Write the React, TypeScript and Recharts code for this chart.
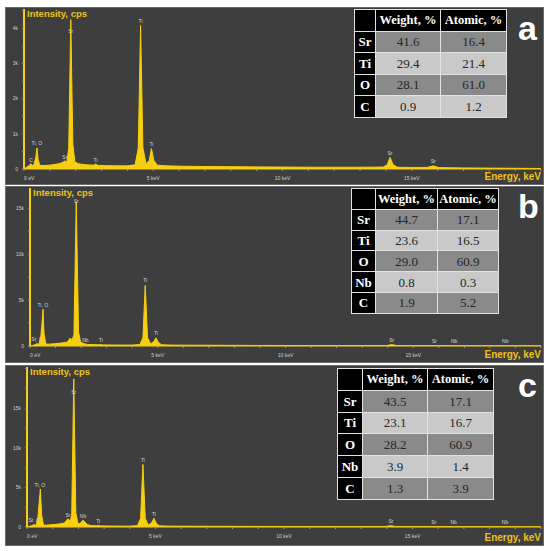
import { ComposedChart, Area, XAxis, YAxis, ReferenceDot } from 'recharts';

const YELLOW = '#f7cf0f';
const TITLE_YELLOW = '#eec21c';
const PANEL_BG = '#3e3e3e';
const ROW_DARK = '#8a8a8a';
const ROW_LIGHT = '#c9c9c9';
const CELL_BORDER = '1.5px solid #e2e2e2';
const SERIF = '"Liberation Serif", "Times New Roman", "DejaVu Serif", serif';
const SANS = '"Liberation Sans", Arial, sans-serif';

// shared energy axis (keV)
const energyTicks = [0, 1, 2, 3, 4, 5, 6, 7, 8, 9, 10, 11, 12, 13, 14, 15, 16, 17, 18, 19, 20];
const energyLabels: Record<number, string> = { 0: '0 eV', 5: '5 keV', 10: '10 keV', 15: '15 keV' };

// ---- panel a ----
const energyA = [0, 0.1, 0.2, 0.27, 0.33, 0.4, 0.46, 0.5, 0.55, 0.62, 0.8, 1.0, 1.2, 1.4, 1.5, 1.58, 1.66, 1.73, 1.81, 1.89, 1.97, 2.1, 2.4, 2.7, 2.77, 2.85, 3.2, 3.6, 4.0, 4.3, 4.42, 4.51, 4.6, 4.72, 4.85, 4.93, 5.02, 5.15, 5.5, 6, 7, 8, 9, 10, 11, 12, 13, 13.9, 14.05, 14.16, 14.28, 14.45, 15, 15.6, 15.83, 16.05, 16.5, 17, 18, 19, 20];
const countsA = [0, 50, 100, 150, 90, 160, 350, 600, 250, 100, 100, 110, 130, 160, 190, 230, 200, 600, 4250, 700, 200, 150, 120, 110, 140, 105, 95, 90, 90, 120, 600, 4080, 600, 150, 250, 580, 250, 110, 90, 80, 70, 65, 60, 55, 50, 50, 50, 55, 120, 330, 120, 50, 45, 45, 90, 40, 35, 30, 25, 20, 15];
const peaksA = [
  { e: 0.27, c: 150, name: 'C' },
  { e: 0.5, c: 620, name: 'Ti, O' },
  { e: 1.58, c: 240, name: 'Sr' },
  { e: 1.81, c: 3800, name: 'Sr' },
  { e: 2.77, c: 140, name: 'Ti' },
  { e: 4.51, c: 4100, name: 'Ti' },
  { e: 4.93, c: 600, name: 'Ti' },
  { e: 14.16, c: 340, name: 'Sr' },
  { e: 15.83, c: 100, name: 'Sr' },
];
const yTicksA = [0, 500, 1000, 1500, 2000, 2500, 3000, 3500, 4000, 4500];
const yLabelsA: Record<number, string> = { 0: '0', 1000: '1k', 2000: '2k', 3000: '3k', 4000: '4k' };
const elementsA = ['Sr', 'Ti', 'O', 'C'];
const weightA = ['41.6', '29.4', '28.1', '0.9'];
const atomicA = ['16.4', '21.4', '61.0', '1.2'];

// ---- panel b ----
const energyB = [0, 0.1, 0.2, 0.27, 0.34, 0.42, 0.47, 0.51, 0.55, 0.62, 0.75, 1.0, 1.25, 1.45, 1.52, 1.58, 1.64, 1.72, 1.81, 1.9, 1.98, 2.1, 2.17, 2.26, 2.45, 2.7, 2.77, 2.84, 3.2, 3.6, 4.0, 4.3, 4.42, 4.51, 4.6, 4.72, 4.85, 4.93, 5.02, 5.15, 5.5, 6, 7, 8, 9, 10, 11, 12, 13, 13.95, 14.16, 14.35, 15, 15.83, 16.6, 17, 18, 18.6, 19, 20];
const countsB = [0, 60, 150, 260, 150, 900, 2500, 4000, 1300, 220, 200, 260, 330, 420, 650, 870, 600, 1200, 15700, 1500, 450, 260, 220, 170, 150, 130, 170, 120, 110, 100, 100, 150, 900, 6600, 900, 220, 480, 900, 400, 130, 100, 90, 80, 70, 60, 55, 50, 45, 45, 50, 150, 50, 40, 45, 35, 30, 25, 25, 20, 15];
const peaksB = [
  { e: 0.27, c: 280, name: 'Sr, C' },
  { e: 0.5, c: 4050, name: 'Ti, O' },
  { e: 1.81, c: 15300, name: 'Sr' },
  { e: 2.17, c: 260, name: 'Nb' },
  { e: 2.77, c: 220, name: 'Ti' },
  { e: 4.51, c: 6700, name: 'Ti' },
  { e: 4.93, c: 950, name: 'Ti' },
  { e: 14.16, c: 200, name: 'Sr' },
  { e: 15.83, c: 100, name: 'Sr' },
  { e: 16.6, c: 100, name: 'Nb' },
  { e: 18.6, c: 100, name: 'Nb' },
];
const yTicksB = [0, 2500, 5000, 7500, 10000, 12500, 15000];
const yLabelsB: Record<number, string> = { 0: '0', 5000: '5k', 10000: '10k', 15000: '15k' };
const elementsB = ['Sr', 'Ti', 'O', 'Nb', 'C'];
const weightB = ['44.7', '23.6', '29.0', '0.8', '1.9'];
const atomicB = ['17.1', '16.5', '60.9', '0.3', '5.2'];

// ---- panel c ----
const energyC = [0, 0.1, 0.2, 0.27, 0.34, 0.42, 0.47, 0.52, 0.57, 0.64, 0.75, 1.0, 1.25, 1.45, 1.52, 1.6, 1.68, 1.74, 1.82, 1.9, 1.98, 2.05, 2.12, 2.18, 2.26, 2.35, 2.5, 2.7, 2.77, 2.84, 3.2, 3.6, 4.0, 4.3, 4.42, 4.51, 4.6, 4.72, 4.85, 4.94, 5.03, 5.15, 5.5, 6, 7, 8, 9, 10, 11, 12, 13, 13.95, 14.16, 14.35, 15, 15.83, 16.6, 17, 18, 18.6, 19, 20];
const countsC = [0, 80, 180, 300, 180, 1000, 3000, 4800, 1500, 250, 230, 300, 380, 500, 750, 1050, 700, 1500, 18700, 1800, 500, 400, 650, 850, 600, 300, 180, 150, 220, 140, 120, 110, 110, 180, 1100, 7900, 1100, 250, 550, 1100, 480, 150, 110, 100, 90, 80, 70, 60, 55, 50, 50, 55, 170, 55, 45, 50, 40, 35, 30, 28, 22, 15];
const peaksC = [
  { e: 0.27, c: 320, name: 'Sr, C' },
  { e: 0.5, c: 4850, name: 'Ti, O' },
  { e: 1.6, c: 1050, name: 'Sr' },
  { e: 1.82, c: 16600, name: 'Sr' },
  { e: 2.18, c: 880, name: 'Nb' },
  { e: 2.77, c: 250, name: 'Ti' },
  { e: 4.51, c: 7950, name: 'Ti' },
  { e: 4.94, c: 1150, name: 'Ti' },
  { e: 14.16, c: 220, name: 'Sr' },
  { e: 15.83, c: 100, name: 'Sr' },
  { e: 16.6, c: 100, name: 'Nb' },
  { e: 18.6, c: 100, name: 'Nb' },
];
const yTicksC = [0, 2500, 5000, 7500, 10000, 12500, 15000, 17500, 20000];
const yLabelsC: Record<number, string> = { 0: '0', 5000: '5k', 10000: '10k', 15000: '15k' };
const elementsC = ['Sr', 'Ti', 'O', 'Nb', 'C'];
const weightC = ['43.5', '23.1', '28.2', '3.9', '1.3'];
const atomicC = ['17.1', '16.7', '60.9', '1.4', '3.9'];

const EnergyTick = (props: any) => {
  const { x, y, payload } = props;
  const text = energyLabels[payload.value];
  if (!text) return null;
  return (
    <text x={x} y={y + 7} textAnchor={payload.value === 0 ? 'start' : 'middle'} fill="#cfcfcf" fontSize={5} fontFamily={SANS}>
      {text}
    </text>
  );
};

function CompTable({ left, top, colW, rowH, elements, weight, atomic }: any) {
  const base = {
    padding: 0, border: CELL_BORDER, textAlign: 'center' as const, height: rowH, lineHeight: 1, fontFamily: SERIF,
  };
  const head = { ...base, background: '#000', color: '#fff', fontWeight: 'bold' as const, fontSize: 12.5 };
  return (
    <table
      style={{
        position: 'absolute', left, top, borderCollapse: 'collapse', tableLayout: 'fixed',
        fontFamily: SERIF, border: '1.5px solid #d8d8d8',
      }}
    >
      <tbody>
        <tr>
          <td style={{ ...base, width: colW[0], background: '#000' }} />
          <td style={{ ...head, width: colW[1] }}>Weight, %</td>
          <td style={{ ...head, width: colW[2] }}>Atomic, %</td>
        </tr>
        {elements.map((el: string, i: number) => {
          const bg = i % 2 === 0 ? ROW_DARK : ROW_LIGHT;
          return (
            <tr key={el}>
              <td style={{ ...head, fontSize: 13 }}>{el}</td>
              <td style={{ ...base, background: bg, color: '#262626', fontSize: 13 }}>{weight[i]}</td>
              <td style={{ ...base, background: bg, color: '#262626', fontSize: 13 }}>{atomic[i]}</td>
            </tr>
          );
        })}
      </tbody>
    </table>
  );
}

function Panel(props: any) {
  const { top, height, energy, counts, peaks, yMax, yTicks, yLabels, yWidth, xHeight, table, letter, letterTop } = props;
  const data = energy.map((e: number, i: number) => ({ e, c: counts[i] }));
  return (
    <div style={{ position: 'absolute', left: 6, top, width: 537, height, background: PANEL_BG, boxShadow: '0 0 0 1px #6a6a6a' }}>
      <ComposedChart width={537} height={height} data={data} margin={{ top: 1, right: 2, bottom: 0, left: 0 }}>
        <XAxis
          type="number"
          dataKey="e"
          domain={[0, 20]}
          ticks={energyTicks}
          interval={0}
          height={xHeight}
          axisLine={{ stroke: YELLOW, strokeWidth: 1 }}
          tickLine={{ stroke: '#9a9a9a' }}
          tickSize={2}
          tick={<EnergyTick />}
        />
        <YAxis
          type="number"
          domain={[0, yMax]}
          allowDataOverflow
          ticks={yTicks}
          interval={0}
          width={yWidth}
          axisLine={{ stroke: YELLOW, strokeWidth: 2 }}
          tickLine={{ stroke: '#9a9a9a' }}
          tickSize={2}
          tickMargin={4}
          tickFormatter={(v: number) => yLabels[v] ?? ''}
          tick={{ fill: '#cfcfcf', fontSize: 5, fontFamily: SANS }}
        />
        <Area
          type="linear"
          dataKey="c"
          stroke={YELLOW}
          strokeWidth={1}
          fill={YELLOW}
          fillOpacity={1}
          baseValue={0}
          dot={false}
          activeDot={false}
          isAnimationActive={false}
        />
        {peaks.map((p: any, i: number) => (
          <ReferenceDot
            key={i}
            x={p.e}
            y={p.c}
            r={0}
            fill="none"
            stroke="none"
            label={{ value: p.name, position: 'top', offset: 2, fill: '#d6d6d6', fontSize: 5, fontFamily: SANS }}
          />
        ))}
      </ComposedChart>
      <div style={{ position: 'absolute', left: yWidth + 3, top: 1, color: TITLE_YELLOW, fontFamily: SANS, fontWeight: 'bold', fontSize: 9.5, lineHeight: '10px' }}>
        Intensity, cps
      </div>
      <div style={{ position: 'absolute', right: 2, top: height - 12, color: TITLE_YELLOW, fontFamily: SANS, fontWeight: 'bold', fontSize: 10, lineHeight: '10px' }}>
        Energy, keV
      </div>
      <CompTable {...table} />
      <div style={{ position: 'absolute', left: 512, top: letterTop, color: '#fff', fontFamily: SANS, fontWeight: 'bold', fontSize: 34, lineHeight: '34px' }}>
        {letter}
      </div>
    </div>
  );
}

export default function App() {
  return (
    <div style={{ position: 'absolute', left: 0, top: 0, width: 550, height: 551, background: '#fff', overflow: 'hidden' }}>
      <Panel
        top={8} height={176} energy={energyA} counts={countsA} peaks={peaksA}
        yMax={4550} yTicks={yTicksA} yLabels={yLabelsA} yWidth={18} xHeight={15}
        table={{ left: 348, top: 1, colW: [20, 64, 65], rowH: 20.5, elements: elementsA, weight: weightA, atomic: atomicA }}
        letter="a" letterTop={3}
      />
      <Panel
        top={187} height={175} energy={energyB} counts={countsB} peaks={peaksB}
        yMax={17200} yTicks={yTicksB} yLabels={yLabelsB} yWidth={24} xHeight={16}
        table={{ left: 345, top: 1, colW: [23, 61, 60], rowH: 19.8, elements: elementsB, weight: weightB, atomic: atomicB }}
        letter="b" letterTop={2}
      />
      <Panel
        top={366} height={179} energy={energyC} counts={countsC} peaks={peaksC}
        yMax={20200} yTicks={yTicksC} yLabels={yLabelsC} yWidth={21} xHeight={18}
        table={{ left: 331, top: 2, colW: [24, 64, 65], rowH: 20.8, elements: elementsC, weight: weightC, atomic: atomicC }}
        letter="c" letterTop={2}
      />
    </div>
  );
}
